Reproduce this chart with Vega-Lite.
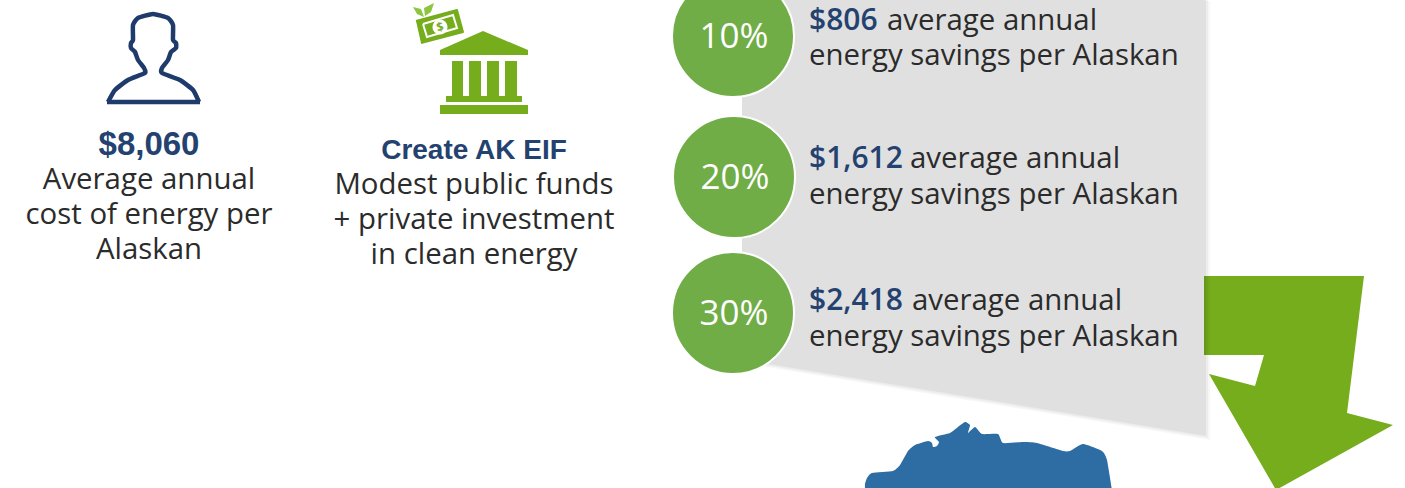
{
"$schema":"https://vega.github.io/schema/vega-lite/v6.json",
"width":1405,"height":488,"autosize":{"type":"none"},"padding":0,"background":"white",
"config":{"view":{"stroke":null}},
"datasets":{
"panel":[{"x":742,"y":-5,"o":1},{"x":1204,"y":-5,"o":2},{"x":1204,"y":434,"o":3},{"x":742,"y":358,"o":4}],
"arrow":[{"x":1204,"y":276,"o":1},{"x":1364,"y":276,"o":2},{"x":1347,"y":413,"o":3},{"x":1393,"y":425,"o":4},{"x":1276,"y":490,"o":5},{"x":1209,"y":374,"o":6},{"x":1255,"y":386,"o":7},{"x":1264,"y":355,"o":8},{"x":1204,"y":355,"o":9}],
"alaska":[{"x":865,"y":490,"o":1},{"x":865,"y":484,"o":2},{"x":867,"y":478,"o":3},{"x":872,"y":473,"o":4},{"x":893,"y":471,"o":5},{"x":900,"y":465,"o":6},{"x":908,"y":451,"o":7},{"x":915,"y":445,"o":8},{"x":928,"y":441,"o":9},{"x":932,"y":443,"o":10},{"x":933,"y":447,"o":11},{"x":937,"y":446,"o":12},{"x":939,"y":442,"o":13},{"x":935,"y":437,"o":14},{"x":950,"y":433,"o":15},{"x":958,"y":427,"o":16},{"x":965,"y":422,"o":17},{"x":970,"y":425,"o":18},{"x":968,"y":433,"o":19},{"x":975,"y":427,"o":20},{"x":982,"y":434,"o":21},{"x":998,"y":434,"o":22},{"x":1003,"y":443,"o":23},{"x":1023,"y":442,"o":24},{"x":1037,"y":443,"o":25},{"x":1063,"y":451,"o":26},{"x":1070,"y":451,"o":27},{"x":1083,"y":444,"o":28},{"x":1102,"y":451,"o":29},{"x":1107,"y":460,"o":30},{"x":1112,"y":490,"o":31}],
"person":[{"x":108,"y":102,"o":1},{"x":115,"y":90,"o":2},{"x":128,"y":80,"o":3},{"x":145,"y":73,"o":4},{"x":144,"y":68,"o":5},{"x":138,"y":60,"o":6},{"x":135,"y":52,"o":7},{"x":131,"y":48,"o":8},{"x":131,"y":43,"o":9},{"x":133,"y":40,"o":10},{"x":133,"y":25,"o":11},{"x":138,"y":18,"o":12},{"x":153,"y":14,"o":13},{"x":168,"y":18,"o":14},{"x":173,"y":25,"o":15},{"x":173,"y":40,"o":16},{"x":176,"y":43,"o":17},{"x":176,"y":48,"o":18},{"x":171,"y":52,"o":19},{"x":168,"y":60,"o":20},{"x":162,"y":68,"o":21},{"x":162,"y":73,"o":22},{"x":180,"y":80,"o":23},{"x":193,"y":90,"o":24},{"x":199,"y":102,"o":25}],
"personBase":[{"x":107,"y":102,"o":1},{"x":200,"y":102,"o":2}],
"roof":[{"x":483,"y":31,"o":1},{"x":528,"y":50,"o":2},{"x":528,"y":55,"o":3},{"x":440,"y":55,"o":4},{"x":440,"y":50,"o":5}],
"bankBars":[{"x":452,"x2":463,"y":61,"y2":96},{"x":469,"x2":481,"y":61,"y2":96},{"x":487,"x2":499,"y":61,"y2":96},{"x":505,"x2":517,"y":61,"y2":96},{"x":446,"x2":522,"y":96,"y2":102},{"x":440,"x2":528,"y":105,"y2":114}],
"note":[{"x":416,"y":21,"o":1},{"x":457,"y":10,"o":2},{"x":463,"y":32,"o":3},{"x":421,"y":43,"o":4}],
"noteInner":[{"x":423,"y":24,"o":1},{"x":453,"y":15,"o":2},{"x":457,"y":28,"o":3},{"x":427,"y":37,"o":4},{"x":423,"y":24,"o":5}],
"leaves":[{"g":"a","x":413,"y":7,"o":1},{"g":"a","x":421,"y":9,"o":2},{"g":"a","x":424,"y":17,"o":3},{"g":"a","x":417,"y":14,"o":4},{"g":"b","x":434,"y":3,"o":1},{"g":"b","x":431,"y":12,"o":2},{"g":"b","x":425,"y":16,"o":3},{"g":"b","x":424,"y":8,"o":4}],
"coin":[{"x":440,"y":27}],
"dollar":[{"x":440,"y":27,"label":"$"}],
"circles":[{"x":733,"y":36,"label":"10%"},{"x":734,"y":177,"label":"20%"},{"x":733,"y":313,"label":"30%"}],
"body":[{"x":149,"y":189,"label":"Average annual"},{"x":149,"y":224,"label":"cost of energy per"},{"x":149,"y":259,"label":"Alaskan"},{"x":474,"y":194,"label":"Modest public funds"},{"x":474,"y":229,"label":"+ private investment"},{"x":474,"y":264,"label":"in clean energy"}],
"head1":[{"x":149,"y":155,"label":"$8,060"}],
"head2":[{"x":474,"y":159,"label":"Create AK EIF"}],
"amounts":[{"x":809,"y":30,"label":"$806"},{"x":809,"y":168,"label":"$1,612"},{"x":809,"y":310,"label":"$2,418"}],
"savings":[{"x":887,"y":30,"label":"average annual"},{"x":910,"y":168,"label":"average annual"},{"x":912,"y":310,"label":"average annual"},{"x":809,"y":65,"label":"energy savings per Alaskan"},{"x":809,"y":204,"label":"energy savings per Alaskan"},{"x":809,"y":346,"label":"energy savings per Alaskan"}]
},
"encoding":{
"x":{"field":"x","type":"quantitative","scale":{"domain":[0,1405],"nice":false,"zero":false},"axis":null},
"y":{"field":"y","type":"quantitative","scale":{"domain":[488,0],"nice":false,"zero":false},"axis":null}
},
"layer":[
{"data":{"name":"arrow"},"mark":{"type":"line","fill":"#76ad1c","stroke":null},"encoding":{"order":{"field":"o"}}},
{"data":{"name":"panel"},"mark":{"type":"line","fill":"#000000","fillOpacity":0.03,"stroke":null,"xOffset":6,"yOffset":6},"encoding":{"order":{"field":"o"}}},
{"data":{"name":"panel"},"mark":{"type":"line","fill":"#000000","fillOpacity":0.04,"stroke":null,"xOffset":4,"yOffset":4},"encoding":{"order":{"field":"o"}}},
{"data":{"name":"panel"},"mark":{"type":"line","fill":"#000000","fillOpacity":0.05,"stroke":null,"xOffset":2,"yOffset":2},"encoding":{"order":{"field":"o"}}},
{"data":{"name":"panel"},"mark":{"type":"line","fill":"#e0e0e0","stroke":null},"encoding":{"order":{"field":"o"}}},
{"data":{"name":"alaska"},"mark":{"type":"line","fill":"#2e6ca4","stroke":null,"interpolate":"cardinal","tension":0.5},"encoding":{"order":{"field":"o"}}},
{"data":{"name":"person"},"mark":{"type":"line","stroke":"#1f3b6b","strokeWidth":4.5,"strokeJoin":"round","interpolate":"cardinal","tension":0.5},"encoding":{"order":{"field":"o"}}},
{"data":{"name":"personBase"},"mark":{"type":"line","stroke":"#1f3b6b","strokeWidth":4.5},"encoding":{"order":{"field":"o"}}},
{"data":{"name":"roof"},"mark":{"type":"line","fill":"#76ad1c","stroke":null},"encoding":{"order":{"field":"o"}}},
{"data":{"name":"bankBars"},"mark":{"type":"rect","fill":"#76ad1c"},"encoding":{"x2":{"field":"x2"},"y2":{"field":"y2"}}},
{"data":{"name":"note"},"mark":{"type":"line","fill":"#76ad1c","stroke":"#76ad1c","strokeWidth":2,"strokeJoin":"round"},"encoding":{"order":{"field":"o"}}},
{"data":{"name":"noteInner"},"mark":{"type":"line","stroke":"#ffffff","strokeWidth":2},"encoding":{"order":{"field":"o"}}},
{"data":{"name":"coin"},"mark":{"type":"point","shape":"circle","filled":true,"fill":"#ffffff","opacity":1,"size":230}},
{"data":{"name":"dollar"},"mark":{"type":"text","font":"Open Sans","fontWeight":"bold","fontSize":12,"fill":"#76ad1c","angle":345,"align":"center","baseline":"middle"},"encoding":{"text":{"field":"label"}}},
{"data":{"name":"leaves"},"mark":{"type":"line","fill":"#8cc63f","stroke":null},"encoding":{"order":{"field":"o"},"detail":{"field":"g"}}},
{"data":{"name":"circles"},"mark":{"type":"point","shape":"circle","filled":true,"fill":"#70ad47","stroke":"#ffffff","strokeWidth":2,"opacity":1,"size":14884}},
{"data":{"name":"circles"},"mark":{"type":"text","font":"Open Sans","fontSize":35,"fill":"#ffffff","align":"center","baseline":"middle","dx":1,"dy":1},"encoding":{"text":{"field":"label"}}},
{"data":{"name":"body"},"mark":{"type":"text","font":"Open Sans","fontSize":29.4,"fill":"#2b2b2b","align":"center","baseline":"alphabetic"},"encoding":{"text":{"field":"label"}}},
{"data":{"name":"head1"},"mark":{"type":"text","font":"Liberation Sans","fontWeight":"bold","fontSize":33,"fill":"#24426f","align":"center","baseline":"alphabetic"},"encoding":{"text":{"field":"label"}}},
{"data":{"name":"head2"},"mark":{"type":"text","font":"Liberation Sans","fontWeight":"bold","fontSize":28,"fill":"#24426f","align":"center","baseline":"alphabetic"},"encoding":{"text":{"field":"label"}}},
{"data":{"name":"amounts"},"mark":{"type":"text","font":"Open Sans","fontWeight":600,"fontSize":30,"fill":"#24426f","align":"left","baseline":"alphabetic"},"encoding":{"text":{"field":"label"}}},
{"data":{"name":"savings"},"mark":{"type":"text","font":"Open Sans","fontSize":29.4,"fill":"#2b2b2b","align":"left","baseline":"alphabetic"},"encoding":{"text":{"field":"label"}}}
]
}
